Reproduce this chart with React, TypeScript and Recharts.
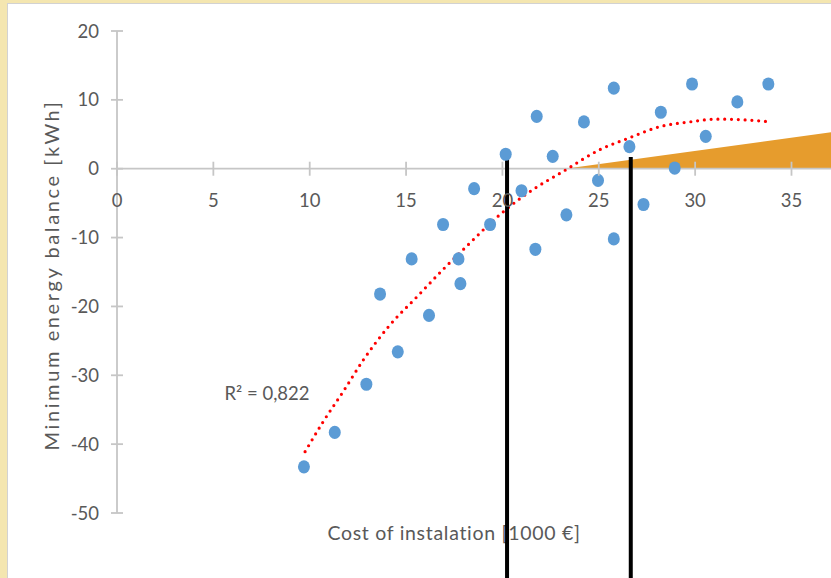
import { ComposedChart, Scatter, Line, Area, XAxis, YAxis, ReferenceLine } from "recharts";

// measured points (cost in 1000 €, energy balance in kWh)
const costs = [
  9.7, 11.3, 12.94, 13.65, 14.57, 15.29, 16.19, 16.92, 17.72, 17.82, 18.53, 19.36,
  20.17, 20.99, 21.71, 21.78, 22.61, 23.32, 24.23, 24.96, 25.78, 25.78, 26.59, 27.32,
  28.22, 28.94, 29.84, 30.55, 32.19, 33.8,
];
const balances = [
  -43.3, -38.3, -31.3, -18.2, -26.6, -13.1, -21.3, -8.1, -13.1, -16.7, -2.9, -8.1,
  2.1, -3.2, -11.7, 7.6, 1.8, -6.7, 6.8, -1.7, 11.7, -10.2, 3.2, -5.2,
  8.2, 0.1, 12.3, 4.7, 9.7, 12.3,
];

// trendline
const trendX = [9.76, 10.73, 11.73, 12.8, 14.1, 15.6, 17.0, 18.13, 19.34, 20.24, 21.6, 23.15, 25.05, 26.6, 28.16, 29.72, 31.1, 32.5, 33.65];
const trendY = [-41.1, -36.6, -32.4, -27.7, -22.9, -18.5, -14.4, -11.3, -8.0, -5.8, -3.0, -0.4, 2.76, 4.5, 6.1, 6.8, 7.2, 7.1, 6.87];

// orange wedge
const wedgeX = [23.25, 37.05];
const wedgeY = [0, 5.3];

// black markers
const markerX = [20.24, 26.66];
const markerTop = 1.7;
const markerBottom = -62;

const xTicks = [0, 5, 10, 15, 20, 25, 30, 35];
const yTicks = [-50, -40, -30, -20, -10, 0, 10, 20];

const W = 831;
const H = 578;
const AXIS_X = 117;
const M_TOP = 31;
const M_BOTTOM = 65;
const Y_MIN = -50;
const Y_MAX = 20;
const PLOT_H = H - M_TOP - M_BOTTOM;
const ZERO_Y = M_TOP + (Y_MAX / (Y_MAX - Y_MIN)) * PLOT_H;

const FONT = "Lato, 'Open Sans', sans-serif";
const TXT = "#595959";
const AXIS = "#C6C6C6";

const points = costs.map((x, i) => ({ x, y: balances[i] }));
const trend = trendX.map((x, i) => ({ x, y: trendY[i] }));
const wedge = wedgeX.map((x, i) => ({ x, y: wedgeY[i] }));

function XTick({ x, payload }: any) {
  return (
    <g>
      <line x1={x} x2={x} y1={ZERO_Y - 7} y2={ZERO_Y + 7} stroke={AXIS} strokeWidth={1.8} />
      <text x={x} y={ZERO_Y + 38} textAnchor="middle" fill={TXT} fontSize={18.5} fontFamily={FONT}>
        {payload.value}
      </text>
    </g>
  );
}

function YTick({ y, payload }: any) {
  return (
    <g>
      <line x1={AXIS_X - 6} x2={AXIS_X + 6} y1={y} y2={y} stroke={AXIS} strokeWidth={1.8} />
      <text x={99} y={y + 6.5} textAnchor="end" fill={TXT} fontSize={18.5} fontFamily={FONT}>
        {payload.value}
      </text>
    </g>
  );
}

function Dot({ cx, cy }: any) {
  return <ellipse cx={cx} cy={cy} rx={6} ry={6.6} fill="#5B9BD5" />;
}

export default function App() {
  return (
    <div style={{ position: "absolute", left: 0, top: 0, width: W, height: H, overflow: "hidden", background: "#F4E6B0" }}>
      <div
        style={{
          position: "absolute",
          left: 7,
          top: 3,
          width: W + 20,
          height: H + 20,
          background: "#fff",
          borderLeft: "1.5px solid #D2D2D2",
          borderTop: "1.5px solid #D2D2D2",
        }}
      />
      <div
        style={{
          position: "absolute",
          left: 51,
          top: 275,
          transform: "translate(-50%, -50%) rotate(-90deg)",
          whiteSpace: "nowrap",
          fontFamily: FONT,
          fontSize: 20,
          color: TXT,
          letterSpacing: 2.6,
        }}
      >
        Minimum energy balance [kWh]
      </div>
      <div
        style={{
          position: "absolute",
          left: 454,
          top: 532,
          transform: "translate(-50%, -50%)",
          whiteSpace: "nowrap",
          fontFamily: FONT,
          fontSize: 19.5,
          color: TXT,
          letterSpacing: 0.7,
        }}
      >
        Cost of instalation [1000 €]
      </div>
      <div
        style={{
          position: "absolute",
          left: 267,
          top: 393,
          transform: "translate(-50%, -50%)",
          whiteSpace: "nowrap",
          fontFamily: FONT,
          fontSize: 18.5,
          color: TXT,
        }}
      >
        R² = 0,822
      </div>
      <div style={{ position: "absolute", left: 0, top: 0 }}>
        <ComposedChart width={W} height={H} margin={{ top: M_TOP, right: 0, bottom: M_BOTTOM - 1, left: 0 }}>
          <XAxis
            type="number"
            dataKey="x"
            domain={[0, 37.05]}
            ticks={xTicks}
            allowDataOverflow
            axisLine={false}
            tickLine={false}
            height={1}
            tick={<XTick />}
            interval={0}
          />
          <YAxis
            type="number"
            dataKey="y"
            domain={[Y_MIN, Y_MAX]}
            ticks={yTicks}
            allowDataOverflow
            width={AXIS_X}
            axisLine={{ stroke: AXIS, strokeWidth: 1.8 }}
            tickLine={false}
            tick={<YTick />}
            interval={0}
          />
          <ReferenceLine y={0} stroke={AXIS} strokeWidth={1.8} />
          <Scatter data={points} dataKey="y" shape={<Dot />} isAnimationActive={false} />
          <Area
            data={wedge}
            dataKey="y"
            type="linear"
            baseValue={0}
            stroke="none"
            fill="#E69C2D"
            fillOpacity={1}
            isAnimationActive={false}
          />
          <Line
            data={trend}
            dataKey="y"
            type="monotone"
            stroke="#FF0000"
            strokeWidth={3.2}
            strokeDasharray="0 6.8"
            strokeLinecap="round"
            dot={false}
            isAnimationActive={false}
          />
          {markerX.map((mx) => (
            <ReferenceLine
              key={mx}
              segment={[
                { x: mx, y: markerTop },
                { x: mx, y: markerBottom },
              ]}
              stroke="#000"
              strokeWidth={4}
              ifOverflow="visible"
            />
          ))}
        </ComposedChart>
      </div>
    </div>
  );
}
